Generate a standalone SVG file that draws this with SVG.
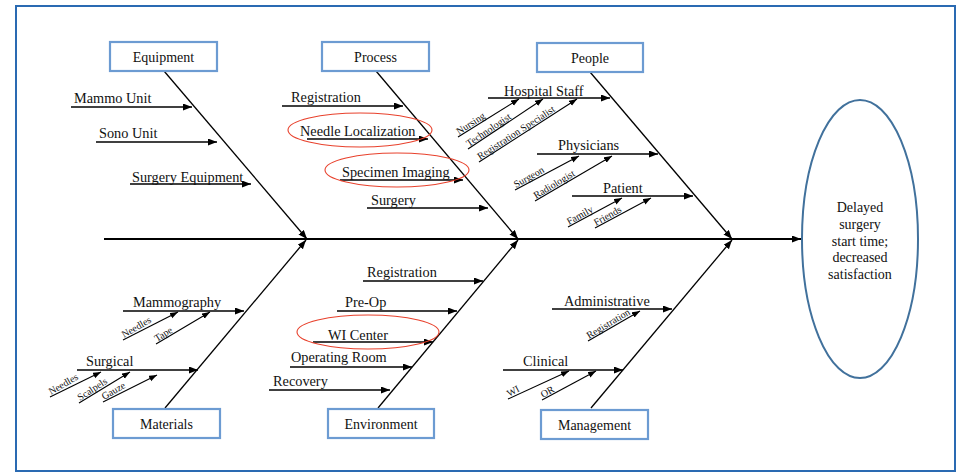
<svg xmlns="http://www.w3.org/2000/svg" width="961" height="473" viewBox="0 0 961 473" font-family="'Liberation Serif', 'Times New Roman', serif">
<defs>
<marker id="ah" markerUnits="userSpaceOnUse" markerWidth="10" markerHeight="8" refX="9" refY="3.5" orient="auto"><path d="M0,0 L9,3.5 L0,7 z" fill="#000"/></marker>
<marker id="ahs" markerUnits="userSpaceOnUse" markerWidth="9" markerHeight="7" refX="8" refY="3" orient="auto"><path d="M0,0 L8,3 L0,6 z" fill="#000"/></marker>
</defs>
<style>
text{font-family:'Liberation Serif','Times New Roman',serif;fill:#111}
.lbl{font-size:14.3px}
.box{fill:#fff;stroke:#6C9BD2;stroke-width:2.2}
.bt{font-size:14px;text-anchor:middle}
.sm{font-size:10px}
.ln{stroke:#000;stroke-width:1.3;fill:none;marker-end:url(#ah)}
.dl{stroke:#000;stroke-width:1.1;fill:none;marker-end:url(#ahs)}
.red{fill:none;stroke:#E8412C;stroke-width:1.1}
</style>
<rect x="16" y="6" width="939" height="465" fill="#fff" stroke="#2A6AB2" stroke-width="2"/>

<g id="connectors">
<line x1="104" y1="239" x2="801" y2="239" stroke="#000" stroke-width="2" marker-end="url(#ah)"/>
<line class="ln" x1="164" y1="71" x2="307" y2="239"/>
<line class="ln" x1="376" y1="71" x2="518" y2="239"/>
<line class="ln" x1="590" y1="72" x2="732" y2="239"/>
<line class="ln" x1="165" y1="408" x2="306" y2="240"/>
<line class="ln" x1="378" y1="408" x2="518" y2="240"/>
<line class="ln" x1="591" y1="408" x2="732" y2="240"/>
<line class="ln" x1="71" y1="107" x2="192" y2="107"/>
<line class="ln" x1="96" y1="142" x2="217" y2="142"/>
<line class="ln" x1="130" y1="184" x2="251" y2="184"/>
<line class="ln" x1="282" y1="106" x2="403" y2="106"/>
<line class="ln" x1="307" y1="139" x2="428" y2="139"/>
<line class="ln" x1="340" y1="180" x2="463" y2="180"/>
<line class="ln" x1="367" y1="208" x2="488" y2="208"/>
<line class="ln" x1="488" y1="98" x2="610" y2="98"/>
<line class="dl" x1="458" y1="137" x2="519" y2="99"/>
<line class="dl" x1="468" y1="149" x2="543" y2="99"/>
<line class="dl" x1="479" y1="162" x2="577" y2="99"/>
<line class="ln" x1="537" y1="154" x2="658" y2="154"/>
<line class="dl" x1="515" y1="190" x2="579" y2="156"/>
<line class="dl" x1="535" y1="201" x2="612" y2="156"/>
<line class="ln" x1="572" y1="196" x2="693" y2="196"/>
<line class="dl" x1="568" y1="227" x2="622" y2="198"/>
<line class="dl" x1="595" y1="228" x2="651" y2="198"/>
<line class="ln" x1="123" y1="311" x2="244" y2="311"/>
<line class="dl" x1="123" y1="340" x2="178" y2="312"/>
<line class="dl" x1="156" y1="344" x2="210" y2="312"/>
<line class="ln" x1="77" y1="370" x2="198" y2="370"/>
<line class="dl" x1="50" y1="397" x2="101" y2="372"/>
<line class="dl" x1="79" y1="403" x2="130" y2="372"/>
<line class="dl" x1="103" y1="402" x2="157" y2="375"/>
<line class="ln" x1="363" y1="281" x2="483" y2="281"/>
<line class="ln" x1="337" y1="311" x2="457" y2="311"/>
<line class="ln" x1="313" y1="342" x2="433" y2="342"/>
<line class="ln" x1="290" y1="367" x2="412" y2="367"/>
<line class="ln" x1="269" y1="390" x2="390" y2="390"/>
<line class="ln" x1="552" y1="309" x2="672" y2="309"/>
<line class="dl" x1="588" y1="341" x2="640" y2="311"/>
<line class="ln" x1="503" y1="370" x2="623" y2="370"/>
<line class="dl" x1="508" y1="399" x2="569" y2="371"/>
<line class="dl" x1="542" y1="400" x2="596" y2="371"/>
</g>

<g id="labels">
<text class="lbl" x="74" y="103">Mammo Unit</text>
<text class="lbl" x="99" y="138">Sono Unit</text>
<text class="lbl" x="132" y="182">Surgery Equipment</text>
<text class="lbl" x="291" y="102">Registration</text>
<text class="lbl" x="300" y="136">Needle Localization</text>
<text class="lbl" x="342" y="177">Specimen Imaging</text>
<text class="lbl" x="371" y="205">Surgery</text>
<text class="lbl" x="504" y="96">Hospital Staff</text>
<text class="lbl" x="558" y="150">Physicians</text>
<text class="lbl" x="603" y="193">Patient</text>
<text class="lbl" x="133" y="307">Mammography</text>
<text class="lbl" x="86" y="366">Surgical</text>
<text class="lbl" x="367" y="277">Registration</text>
<text class="lbl" x="345" y="307">Pre-Op</text>
<text class="lbl" x="328" y="340">WI Center</text>
<text class="lbl" x="291" y="362">Operating Room</text>
<text class="lbl" x="273" y="386">Recovery</text>
<text class="lbl" x="564" y="306">Administrative</text>
<text class="lbl" x="523" y="366">Clinical</text>

<text class="sm" transform="translate(459,135) rotate(-33)">Nursing</text>
<text class="sm" transform="translate(469,147) rotate(-34)">Technologist</text>
<text class="sm" transform="translate(480,160) rotate(-33)">Registration Specialist</text>
<text class="sm" transform="translate(516,188) rotate(-29)">Surgeon</text>
<text class="sm" transform="translate(536,199) rotate(-31)">Radiologist</text>
<text class="sm" transform="translate(569,225) rotate(-29)">Family</text>
<text class="sm" transform="translate(596,226) rotate(-29)">Friends</text>
<text class="sm" transform="translate(124,338) rotate(-30)">Needles</text>
<text class="sm" transform="translate(157,342) rotate(-32)">Tape</text>
<text class="sm" transform="translate(51,395) rotate(-30)">Needles</text>
<text class="sm" transform="translate(80,401) rotate(-33)">Scalpels</text>
<text class="sm" transform="translate(104,400) rotate(-30)">Gauze</text>
<text class="sm" transform="translate(589,339) rotate(-31)">Registration</text>
<text class="sm" transform="translate(509,397) rotate(-28)">WI</text>
<text class="sm" transform="translate(543,398) rotate(-30)">OR</text>
</g>

<g id="highlights">
<ellipse class="red" cx="360" cy="130" rx="72" ry="17"/>
<ellipse class="red" cx="397" cy="170" rx="72" ry="17"/>
<ellipse class="red" cx="368" cy="332" rx="71" ry="17"/>
</g>

<g id="equipment"><rect class="box" x="110" y="42" width="107" height="29"/><text class="bt" x="163.5" y="61.5">Equipment</text></g>
<g id="process"><rect class="box" x="322" y="42" width="107" height="29"/><text class="bt" x="375.5" y="61.5">Process</text></g>
<g id="people"><rect class="box" x="537" y="43" width="106" height="29"/><text class="bt" x="590" y="62.5">People</text></g>
<g id="materials"><rect class="box" x="113" y="409" width="107" height="29"/><text class="bt" x="166.5" y="428.5">Materials</text></g>
<g id="environment"><rect class="box" x="328" y="409" width="106" height="29"/><text class="bt" x="381" y="428.5">Environment</text></g>
<g id="management"><rect class="box" x="541" y="410" width="107" height="29"/><text class="bt" x="594.5" y="429.5">Management</text></g>

<g id="effect">
<ellipse cx="860" cy="239" rx="58" ry="139" fill="#fff" stroke="#41719C" stroke-width="2"/>
<text class="bt" x="860" y="212">Delayed</text>
<text class="bt" x="860" y="229">surgery</text>
<text class="bt" x="860" y="245.5">start time;</text>
<text class="bt" x="860" y="262">decreased</text>
<text class="bt" x="860" y="278.5">satisfaction</text>
</g>
</svg>
